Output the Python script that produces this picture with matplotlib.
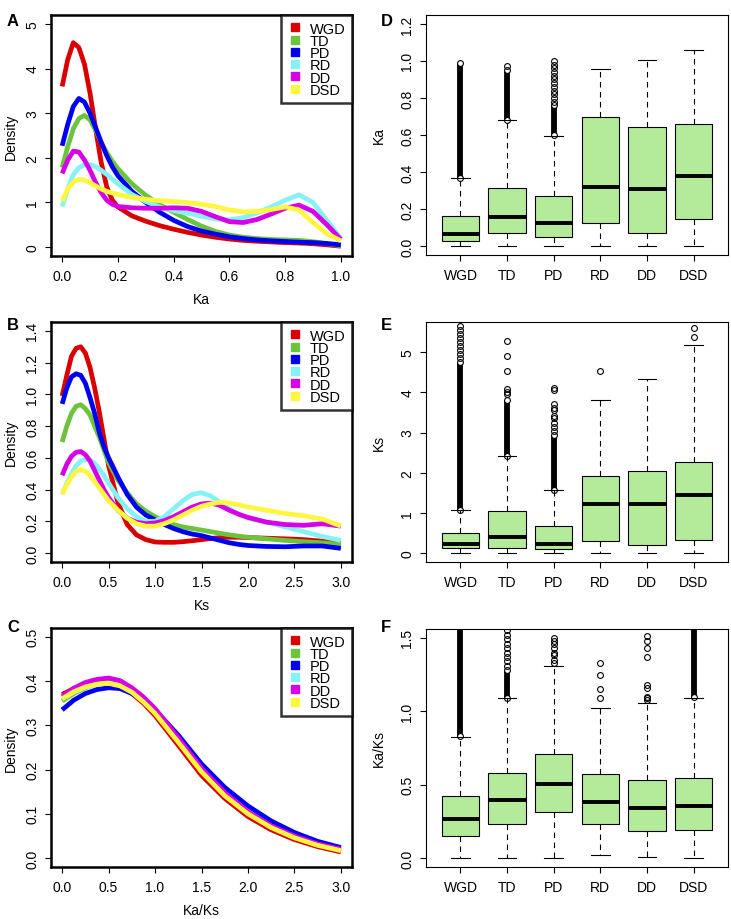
import matplotlib
matplotlib.use("Agg")
from matplotlib import pyplot as plt
from matplotlib.lines import Line2D

plt.rcParams["font.family"] = ["Liberation Sans", "DejaVu Sans"]
plt.rcParams["font.size"] = 10

groups = ["WGD", "TD", "PD", "RD", "DD", "DSD"]
colors = ["#DA0000", "#6CC43C", "#0000F0", "#86F2F8", "#D800E6", "#FFF640"]
box_fill = "#B4EB9A"

# density curves, panel A (Ka)
ka_x = [0, .02, .04, .06, .08, .10, .12, .14, .16, .18, .20, .25, .30, .35, .40,
        .45, .50, .55, .60, .65, .70, .75, .80, .85, .90, .95, 1.0]
ka_wgd = [3.6, 4.2, 4.58, 4.47, 4.1, 3.45, 2.65, 1.9, 1.35, 1.05, .9, .7, .58, .48, .40,
          .33, .27, .22, .18, .15, .13, .115, .10, .09, .075, .05, .02]
ka_td = [1.78, 2.25, 2.65, 2.88, 2.95, 2.85, 2.62, 2.35, 2.12, 1.92, 1.76, 1.42, 1.16, .95, .78,
         .62, .47, .35, .27, .22, .19, .17, .16, .15, .12, .08, .03]
ka_pd = [2.27, 2.75, 3.15, 3.33, 3.25, 3.0, 2.68, 2.35, 2.05, 1.8, 1.6, 1.25, 1.0, .78, .6,
         .46, .36, .29, .23, .19, .16, .14, .125, .11, .1, .08, .05]
ka_rd = [.91, 1.3, 1.62, 1.78, 1.84, 1.85, 1.8, 1.72, 1.63, 1.52, 1.42, 1.18, 1.02, .9, .82,
         .76, .69, .63, .61, .66, .77, .9, 1.05, 1.17, 1.0, .6, .19]
ka_dd = [1.65, 1.95, 2.15, 2.13, 1.95, 1.72, 1.45, 1.22, 1.05, .96, .91, .88, .87, .87, .88,
         .87, .8, .68, .57, .55, .62, .74, .87, .94, .8, .5, .17]
ka_dsd = [1.03, 1.3, 1.45, 1.52, 1.5, 1.44, 1.37, 1.3, 1.25, 1.21, 1.18, 1.11, 1.07, 1.04, 1.02,
          1.0, .96, .91, .83, .79, .8, .84, .9, .83, .55, .3, .14]

# density curves, panel B (Ks)
ks_x = [0, .05, .1, .15, .2, .25, .3, .35, .4, .45, .5, .6, .7, .8, .9, 1.0, 1.1, 1.2,
        1.3, 1.4, 1.5, 1.6, 1.7, 1.8, 1.9, 2.0, 2.2, 2.4, 2.6, 2.8, 3.0]
ks_wgd = [.99, 1.12, 1.24, 1.29, 1.30, 1.26, 1.17, 1.04, .89, .72, .55, .32, .18, .115, .085,
          .07, .068, .068, .072, .078, .085, .092, .098, .10, .10, .098, .094, .09, .085, .075, .06]
ks_td = [.70, .8, .88, .925, .935, .91, .87, .8, .73, .65, .57, .46, .38, .31, .265, .23, .2,
         .18, .165, .155, .145, .135, .125, .115, .107, .10, .09, .08, .072, .065, .055]
ks_pd = [.94, 1.04, 1.11, 1.13, 1.12, 1.07, .98, .88, .76, .67, .6, .48, .37, .29, .24, .21,
         .18, .155, .135, .12, .11, .095, .08, .065, .055, .048, .042, .04, .045, .045, .03]
ks_rd = [.37, .44, .5, .55, .58, .59, .585, .565, .53, .49, .44, .35, .28, .23, .2, .2, .23,
         .28, .33, .37, .38, .36, .32, .28, .245, .22, .195, .165, .135, .105, .08]
ks_dd = [.49, .56, .61, .635, .64, .62, .58, .52, .46, .4, .35, .27, .22, .195, .185, .19, .205,
         .23, .26, .29, .31, .315, .3, .27, .245, .225, .195, .18, .175, .185, .17]
ks_dsd = [.37, .43, .48, .515, .525, .515, .49, .45, .41, .37, .33, .27, .22, .185, .17, .17,
          .185, .21, .24, .27, .295, .31, .32, .315, .305, .29, .27, .25, .235, .215, .17]

# density curves, panel C (Ka/Ks)
r_x = [0, .125, .25, .375, .5, .625, .75, .875, 1.0, 1.25, 1.5, 1.75, 2.0, 2.25, 2.5, 2.75, 3.0]
r_wgd = [.370, .383, .392, .397, .398, .390, .372, .350, .322, .255, .187, .135, .094, .064,
         .042, .026, .014]
r_td = [.355, .372, .385, .394, .398, .394, .380, .358, .330, .265, .198, .143, .102, .070,
        .047, .030, .018]
r_pd = [.335, .357, .372, .381, .385, .383, .372, .356, .335, .278, .213, .160, .118, .084,
        .058, .038, .024]
r_rd = [.360, .375, .386, .393, .396, .391, .378, .358, .332, .268, .200, .146, .104, .072,
        .048, .031, .019]
r_dd = [.365, .384, .397, .404, .407, .401, .385, .364, .338, .272, .203, .148, .105, .073,
        .050, .032, .020]
r_dsd = [.360, .376, .387, .393, .395, .389, .375, .353, .327, .262, .195, .141, .100, .069,
         .046, .029, .017]

# boxplot stats: whislo, q1, med, q3, whishi
ka_lo = [0, 0, 0, .002, 0, 0]
ka_q1 = [.027, .069, .051, .127, .072, .145]
ka_med = [.063, .159, .127, .317, .311, .376]
ka_q3 = [.163, .313, .268, .697, .643, .657]
ka_hi = [.367, .679, .594, .954, 1.003, 1.057]
ka_bands = [(.37, .99), (.68, .95), (.60, .76), None, None, None]
ka_out = [[], [.975], [.78, .80, .82, .84, .86, .88, .90, .92, .94, .96, .98, 1.0], [], [], []]

ks_lo = [0, 0, 0, 0, 0, 0]
ks_q1 = [.14, .14, .10, .31, .21, .33]
ks_med = [.22, .41, .22, 1.23, 1.22, 1.45]
ks_q3 = [.51, 1.05, .68, 1.92, 2.04, 2.27]
ks_hi = [1.08, 2.42, 1.56, 3.82, 4.34, 5.19]
ks_bands = [(1.08, 4.75), (2.42, 3.8), (1.56, 2.95), None, None, None]
ks_out = [[4.85, 4.95, 5.05, 5.15, 5.25, 5.35, 5.45, 5.55, 5.65],
          [3.95, 4.02, 4.08, 4.52, 4.9, 5.28],
          [3.05, 3.15, 3.25, 3.35, 3.42, 3.55, 3.62, 3.72, 4.05, 4.1],
          [4.53], [], [5.37, 5.6]]

r_lo = [0, 0, 0, .023, .007, 0]
r_q1 = [.153, .235, .316, .235, .187, .192]
r_med = [.266, .397, .505, .381, .345, .352]
r_q3 = [.42, .577, .711, .571, .535, .546]
r_hi = [.826, 1.09, 1.308, 1.022, 1.056, 1.092]
r_bands = [(.83, 1.6), (1.09, 1.28), None, None, None, (1.1, 1.6)]
r_out = [[], [1.31, 1.34, 1.37, 1.40, 1.43, 1.46, 1.49, 1.52, 1.55],
         [1.33, 1.35, 1.38, 1.40, 1.43, 1.46, 1.48, 1.50],
         [1.09, 1.15, 1.25, 1.33],
         [1.08, 1.09, 1.10, 1.16, 1.18, 1.37, 1.43, 1.48, 1.51], []]

W, H = 731, 920
fig = plt.figure(figsize=(W / 100, H / 100), dpi=100)


def add_axes(left, top, right, bottom):
    return fig.add_axes([left / W, 1 - bottom / H, (right - left) / W, (bottom - top) / H])


def style_axes(ax, lw):
    for s in ax.spines.values():
        s.set_linewidth(lw)
    ax.tick_params(direction="out", length=4.5, width=0.8, pad=5)
    ax.tick_params(axis="y", labelrotation=90, pad=4)
    plt.setp(ax.get_yticklabels(), va="center")


def density(ax, x, ys, xlim, ylim, xticks, yticks, ylabels, xlabel):
    for y, c in zip(ys, colors):
        ax.plot(x, y, color=c, lw=3.4, solid_capstyle="butt")
    ax.set_xlim(*xlim)
    ax.set_ylim(*ylim)
    ax.set_xticks(xticks)
    ax.set_xticklabels(["{:.1f}".format(t) for t in xticks])
    ax.set_yticks(yticks)
    ax.set_yticklabels(ylabels)
    ax.set_xlabel(xlabel, labelpad=6)
    ax.set_ylabel("Density", labelpad=5)
    style_axes(ax, 1.8)
    handles = [Line2D([], [], marker="s", ls="", color=c, markersize=6) for c in colors]
    leg = ax.legend(handles, groups, loc="upper right", borderaxespad=0, fancybox=False,
                    handlelength=1.0, handletextpad=0.5, labelspacing=-0.12, borderpad=0.45,
                    fontsize=10.5)
    leg.get_frame().set_edgecolor("black")
    leg.get_frame().set_linewidth(1.8)


def boxes(ax, lo, q1, med, q3, hi, bands, outs, ylim, yticks, yfmt, ylabel):
    stats = []
    for i, g in enumerate(groups):
        stats.append(dict(whislo=lo[i], q1=q1[i], med=med[i], q3=q3[i], whishi=hi[i],
                          fliers=outs[i], label=g))
    for i, b in enumerate(bands):
        if b is not None:
            ax.vlines(i + 1, b[0], b[1], color="black", lw=4.2, zorder=2)
            ax.plot([i + 1, i + 1], list(b), "o", mfc="white", mec="black", ms=4.2, mew=0.8,
                    zorder=2)
    ax.bxp(stats, widths=0.8, capwidths=0.4, patch_artist=True,
           boxprops=dict(facecolor=box_fill, edgecolor="black", lw=0.8),
           medianprops=dict(color="black", lw=2.8, solid_capstyle="butt"),
           whiskerprops=dict(color="black", lw=0.8, ls=(0, (5, 4))),
           capprops=dict(color="black", lw=0.8),
           flierprops=dict(marker="o", mfc="none", mec="black", ms=4.2, mew=0.8))
    ax.set_xlim(0.26, 6.74)
    ax.set_ylim(*ylim)
    ax.set_yticks(yticks)
    ax.set_yticklabels([yfmt.format(t) for t in yticks])
    ax.set_ylabel(ylabel, labelpad=10)
    style_axes(ax, 0.8)


axA = add_axes(51, 16, 352, 257)
density(axA, ka_x, [ka_wgd, ka_td, ka_pd, ka_rd, ka_dd, ka_dsd], (-0.04, 1.04), (-0.2, 5.2),
        [0, .2, .4, .6, .8, 1.0], [0, 1, 2, 3, 4, 5], ["0", "1", "2", "3", "4", "5"], "Ka")

axB = add_axes(51, 323, 352, 563)
b_ticks = [0, .2, .4, .6, .8, 1.0, 1.2, 1.4]
density(axB, ks_x, [ks_wgd, ks_td, ks_pd, ks_rd, ks_dd, ks_dsd], (-0.12, 3.12), (-0.056, 1.456),
        [0, .5, 1, 1.5, 2, 2.5, 3], b_ticks, ["{:.1f}".format(t) for t in b_ticks], "Ks")

axC = add_axes(51, 629, 352, 868)
c_ticks = [0, .1, .2, .3, .4, .5]
density(axC, r_x, [r_wgd, r_td, r_pd, r_rd, r_dd, r_dsd], (-0.12, 3.12), (-0.02, 0.52),
        [0, .5, 1, 1.5, 2, 2.5, 3], c_ticks, ["{:.1f}".format(t) for t in c_ticks], "Ka/Ks")

axD = add_axes(426, 16, 728, 256)
boxes(axD, ka_lo, ka_q1, ka_med, ka_q3, ka_hi, ka_bands, ka_out, (-0.048, 1.248),
      [0, .2, .4, .6, .8, 1.0, 1.2], "{:.1f}", "Ka")

axE = add_axes(426, 323, 728, 563)
boxes(axE, ks_lo, ks_q1, ks_med, ks_q3, ks_hi, ks_bands, ks_out, (-0.22, 5.75),
      [0, 1, 2, 3, 4, 5], "{:.0f}", "Ks")

axF = add_axes(426, 630, 728, 868)
boxes(axF, r_lo, r_q1, r_med, r_q3, r_hi, r_bands, r_out, (-0.06, 1.56),
      [0, .5, 1.0, 1.5], "{:.1f}", "Ka/Ks")

for letter, (px, py) in zip("ABCDEF", [(13, 22), (13, 325), (13, 627),
                                       (387, 22), (386, 326), (386, 627)]):
    fig.text(px / W, 1 - py / H, letter, fontsize=12, fontweight="bold",
             ha="center", va="center")

fig.savefig("out.png", dpi=100)
